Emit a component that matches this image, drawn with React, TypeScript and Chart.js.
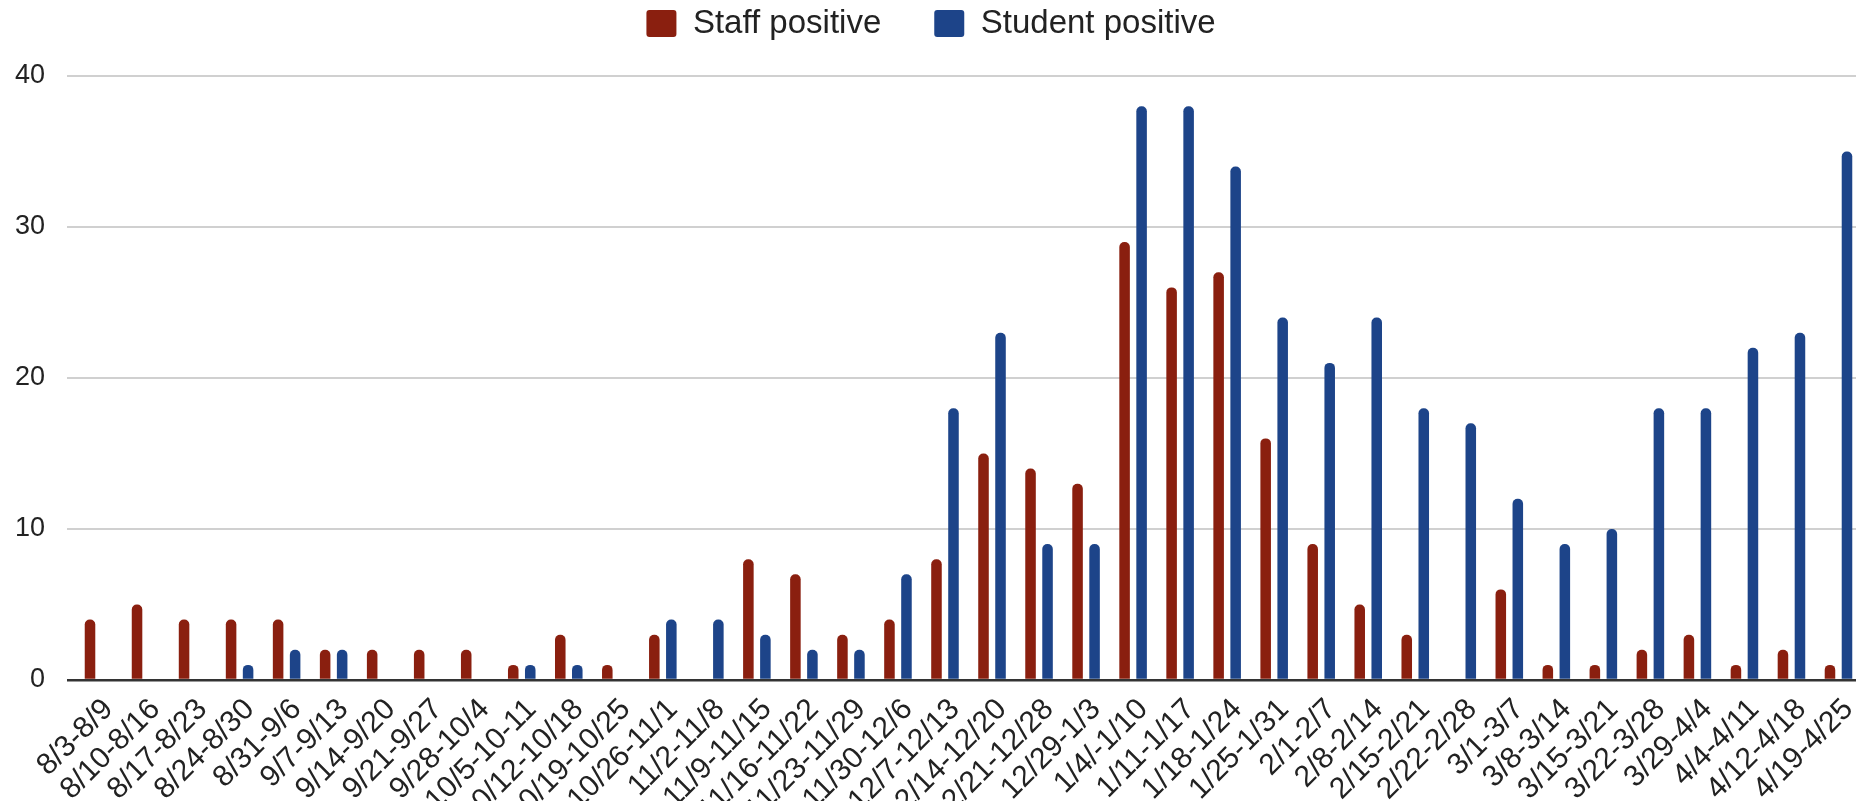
import React, { useEffect, useRef } from "react";
import { Chart, registerables } from "chart.js";

Chart.register(...registerables);

const categories: string[] = [
  "8/3-8/9", "8/10-8/16", "8/17-8/23", "8/24-8/30", "8/31-9/6", "9/7-9/13",
  "9/14-9/20", "9/21-9/27", "9/28-10/4", "10/5-10-11", "10/12-10/18", "10/19-10/25",
  "10/26-11/1", "11/2-11/8", "11/9-11/15", "11/16-11/22", "11/23-11/29", "11/30-12/6",
  "12/7-12/13", "12/14-12/20", "12/21-12/28", "12/29-1/3", "1/4/-1/10", "1/11-1/17",
  "1/18-1/24", "1/25-1/31", "2/1-2/7", "2/8-2/14", "2/15-2/21", "2/22-2/28",
  "3/1-3/7", "3/8-3/14", "3/15-3/21", "3/22-3/28", "3/29-4/4", "4/4-4/11",
  "4/12-4/18", "4/19-4/25",
];

const staffPositive: number[] = [
  4, 5, 4, 4, 4, 2,
  2, 2, 2, 1, 3, 1,
  3, 0, 8, 7, 3, 4,
  8, 15, 14, 13, 29, 26,
  27, 16, 9, 5, 3, 0,
  6, 1, 1, 2, 3, 1,
  2, 1,
];

const studentPositive: number[] = [
  0, 0, 0, 1, 2, 2,
  0, 0, 0, 1, 1, 0,
  4, 4, 3, 2, 2, 7,
  18, 23, 9, 9, 38, 38,
  34, 24, 21, 24, 18, 17,
  12, 9, 10, 18, 18, 22,
  23, 35,
];

const yTicks: number[] = [0, 10, 20, 30, 40];

const FONT = "'Liberation Sans', Arial, sans-serif";

export default function App() {
  const canvasRef = useRef<HTMLCanvasElement | null>(null);

  useEffect(() => {
    const canvas = canvasRef.current;
    if (!canvas) return;

    const legendSpacer = {
      id: "legendSpacer",
      afterInit(chart: any) {
        const legend = chart.legend;
        if (!legend) return;
        const orig = legend.fit;
        legend.fit = function (this: any) {
          orig.call(this);
          this.height += 26;
        };
      },
    };

    const chart = new Chart(canvas, {
      type: "bar",
      data: {
        labels: categories,
        datasets: [
          {
            label: "Staff positive",
            data: staffPositive,
            backgroundColor: "#8a1f0f",
            borderWidth: 0,
            borderRadius: 5,
            borderSkipped: "start",
            barPercentage: 0.62,
            categoryPercentage: 0.7234,
          },
          {
            label: "Student positive",
            data: studentPositive,
            backgroundColor: "#1d4489",
            borderWidth: 0,
            borderRadius: 5,
            borderSkipped: "start",
            barPercentage: 0.62,
            categoryPercentage: 0.7234,
          },
        ],
      },
      options: {
        animation: false,
        responsive: false,
        devicePixelRatio: 1,
        layout: { padding: { top: -46, left: 0, right: 0, bottom: 0 } },
        plugins: {
          tooltip: { enabled: false },
          legend: {
            display: true,
            position: "top",
            align: "center",
            labels: {
              boxWidth: 30,
              boxHeight: 27,
              padding: 53,
              color: "#222",
              useBorderRadius: true,
              borderRadius: 3,
              font: { family: FONT, size: 33 },
            },
          },
        },
        scales: {
          x: {
            type: "category",
            offset: true,
            grid: { display: false, drawTicks: false },
            border: { display: false },
            ticks: {
              autoSkip: false,
              minRotation: 45,
              maxRotation: 45,
              color: "#222",
              padding: 12,
              labelOffset: 10,
              font: { family: FONT, size: 30 },
            },
            afterFit(scale: any) {
              scale.height = 150;
              scale.paddingRight = 0;
              scale.paddingLeft = 0;
            },
          },
          y: {
            min: 0,
            max: 40,
            afterBuildTicks(scale: any) {
              scale.ticks = yTicks.map((v) => ({ value: v }));
            },
            border: { display: false },
            grid: {
              drawTicks: true,
              tickLength: 8,
              color: (ctx: any) => (ctx.tick && ctx.tick.value === 0 ? "#333333" : "#d0d0d0"),
              lineWidth: (ctx: any) => (ctx.tick && ctx.tick.value === 0 ? 2.5 : 2),
            },
            ticks: {
              color: "#222",
              padding: 22,
              font: { family: FONT, size: 27 },
            },
            afterFit(scale: any) {
              scale.width = 75;
            },
          },
        },
      },
      plugins: [legendSpacer],
    });

    return () => {
      chart.destroy();
    };
  }, []);

  return (
    <div
      style={{
        position: "fixed",
        top: 0,
        left: 0,
        width: 1856,
        height: 801,
        overflow: "hidden",
        background: "#ffffff",
      }}
    >
      <canvas
        ref={canvasRef}
        width={1862}
        height={830}
        style={{ display: "block", width: 1862, height: 830 }}
      />
    </div>
  );
}
